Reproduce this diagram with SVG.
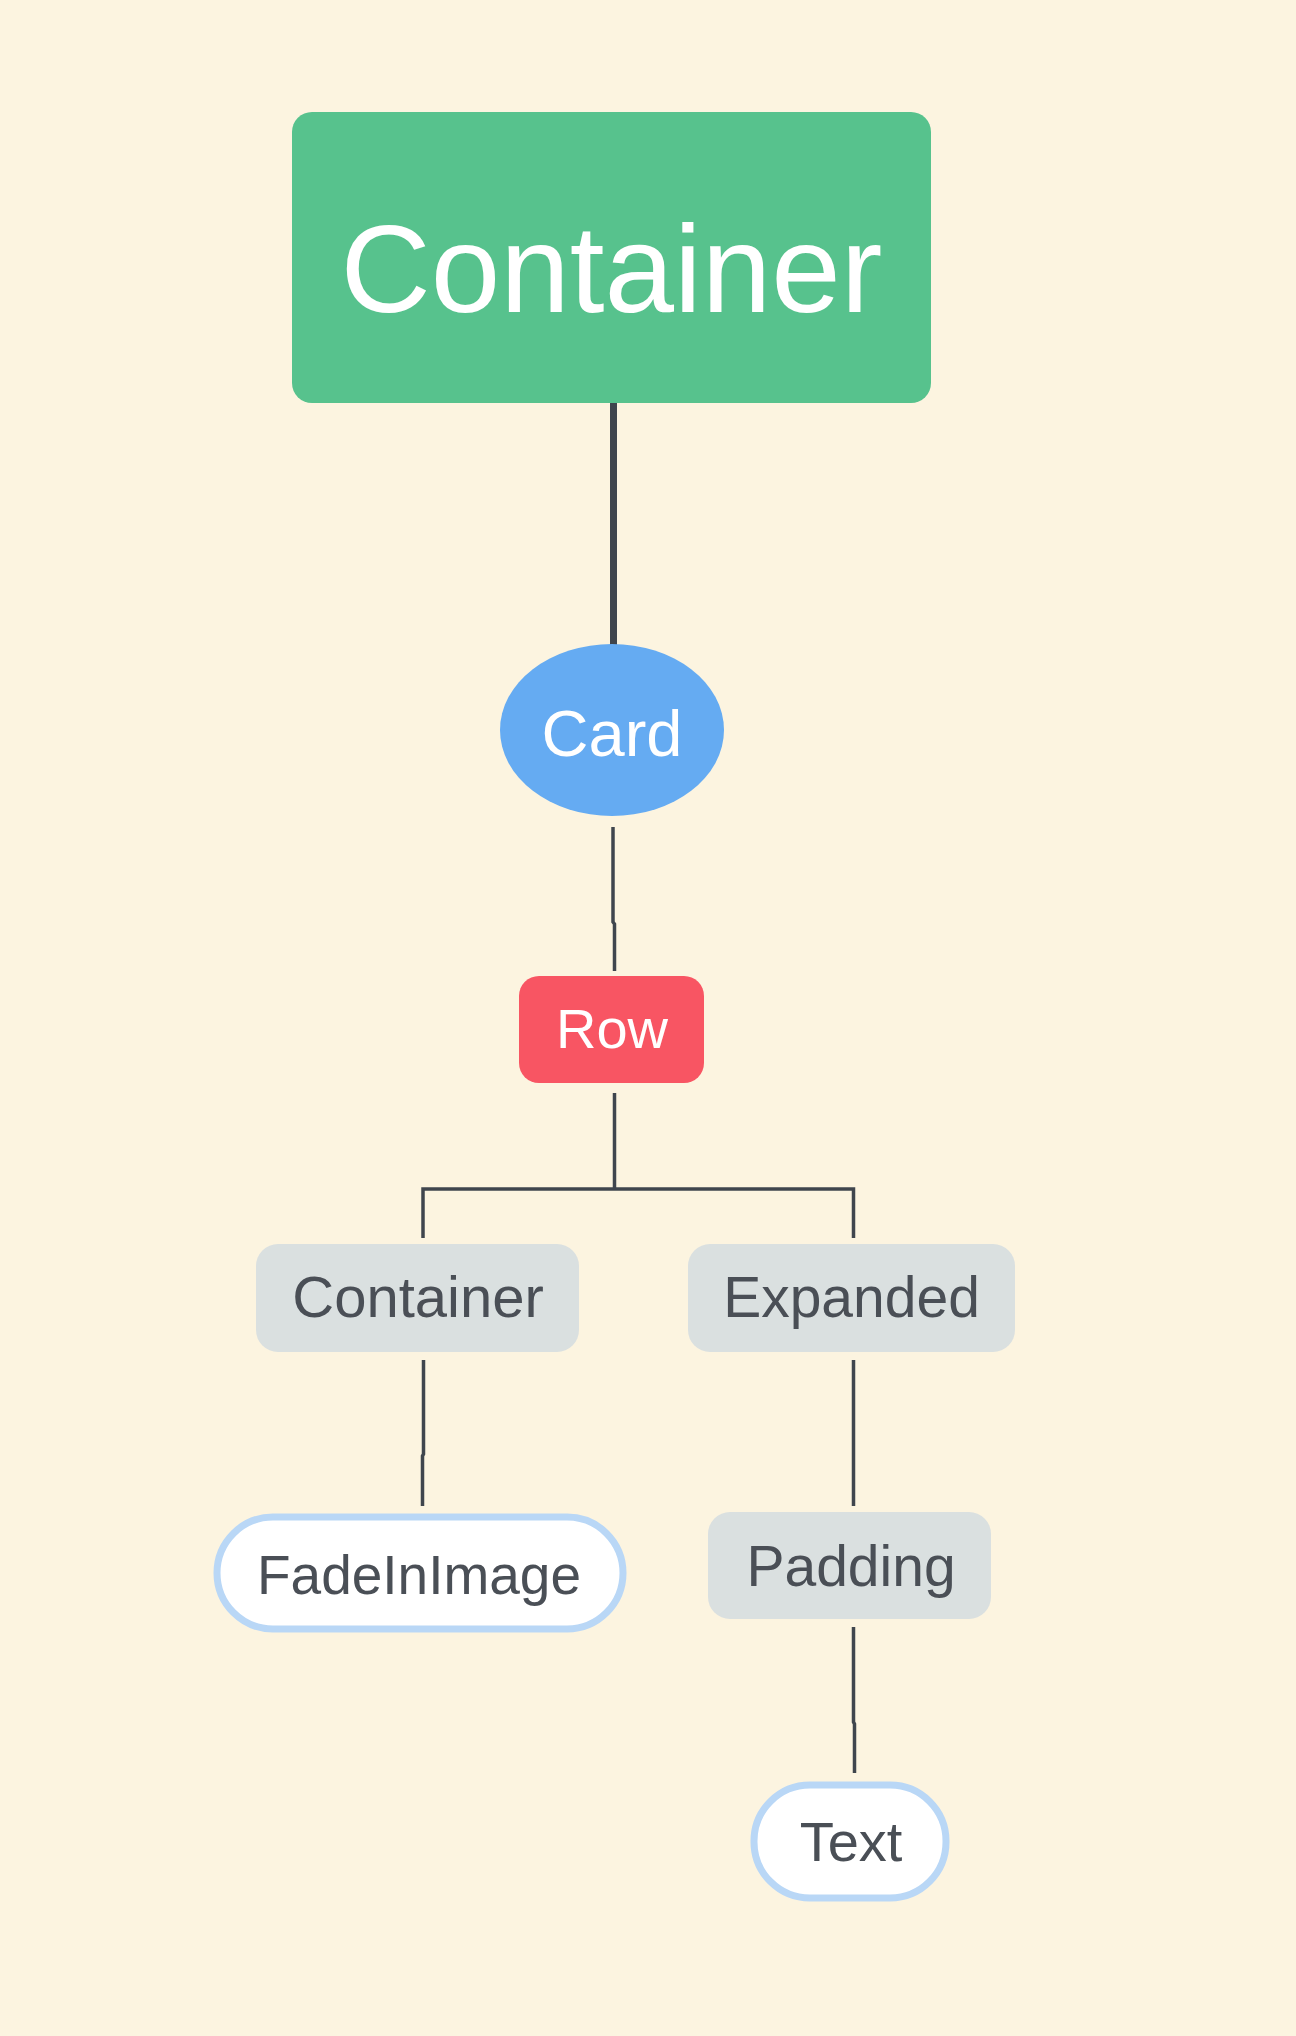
<svg xmlns="http://www.w3.org/2000/svg" width="1296" height="2036" viewBox="0 0 1296 2036">
<style>
.lbl{font-family:"Liberation Sans",Arial,sans-serif;text-anchor:middle}
.w{fill:#ffffff}
.d{fill:#4a4f56}
.gray{fill:#dae0e0}
.pill{fill:#ffffff;stroke:#b9d7f6;stroke-width:7}
.ln{fill:none;stroke:#3f454d;stroke-width:3.5}
</style>
<rect width="1296" height="2036" fill="#fcf4e0"/>
<g id="connectors">
<path d="M613.5 403 V646" fill="none" stroke="#3f454d" stroke-width="7"/>
<path class="ln" d="M613 827 V922 L614.5 924 V971"/>
<path class="ln" d="M614.5 1093 V1189 M423 1238 V1189 H853.5 V1238"/>
<path class="ln" d="M423.5 1360 V1454 L422.5 1456 V1506"/>
<path class="ln" d="M853.5 1360 V1506"/>
<path class="ln" d="M853.5 1627 V1722 L854.5 1724 V1773"/>
</g>
<g id="root">
<rect x="292" y="112" width="639" height="291" rx="20" fill="#57c28d"/>
<text class="lbl w" x="611.5" y="312" font-size="125">Container</text>
</g>
<g id="card">
<ellipse cx="612" cy="730" rx="112" ry="86" fill="#65abf2"/>
<text class="lbl w" x="612" y="756" font-size="65">Card</text>
</g>
<g id="row">
<rect x="519" y="976" width="185" height="107" rx="20" fill="#f85563"/>
<text class="lbl w" x="612" y="1048" font-size="56">Row</text>
</g>
<g id="container2">
<rect class="gray" x="256" y="1244" width="323" height="108" rx="22"/>
<text class="lbl d" x="418" y="1317" font-size="58">Container</text>
</g>
<g id="expanded">
<rect class="gray" x="688" y="1244" width="327" height="108" rx="22"/>
<text class="lbl d" x="851.5" y="1317" font-size="57">Expanded</text>
</g>
<g id="fadeinimage">
<rect class="pill" x="217" y="1517" width="406" height="112" rx="56"/>
<text class="lbl d" x="419" y="1594" font-size="55">FadeInImage</text>
</g>
<g id="padding">
<rect class="gray" x="708" y="1512" width="283" height="107" rx="22"/>
<text class="lbl d" x="851" y="1586" font-size="57">Padding</text>
</g>
<g id="text">
<rect class="pill" x="754" y="1785" width="192" height="113" rx="56"/>
<text class="lbl d" x="851" y="1861" font-size="56">Text</text>
</g>
</svg>
